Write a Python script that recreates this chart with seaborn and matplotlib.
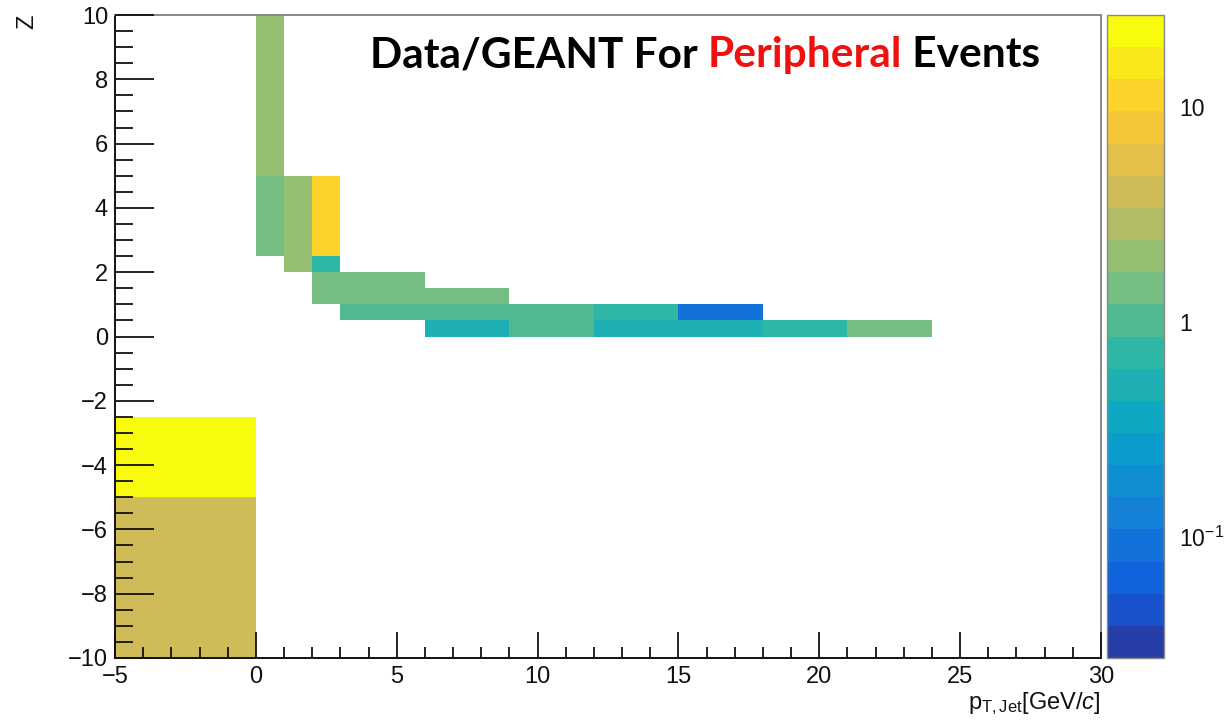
import numpy as np
import seaborn as sns
import matplotlib
matplotlib.use("Agg")
import matplotlib.pyplot as plt
from matplotlib.colors import LinearSegmentedColormap, ListedColormap, LogNorm
from matplotlib.ticker import MultipleLocator, FixedLocator, FixedFormatter, LogLocator, NullFormatter
from matplotlib import transforms

# Bin edges of the 2D histogram (pT of the jet and Z).
x_edges = [-5, 0, 1, 2, 3, 6, 9, 12, 15, 18, 21, 24, 30]
y_edges = [-10, -5, -2.5, 0, 0.5, 1, 1.5, 2, 2.5, 5, 10]

# Filled bins: lower x edge, lower y edge and the Data/GEANT ratio.
bin_pt = [-5, -5,
          6, 9, 12, 15, 18, 21,
          3, 6, 9, 12, 15,
          2, 3, 6,
          2, 3,
          1, 2,
          0, 1, 2,
          0]
bin_z = [-10, -5,
         0, 0, 0, 0, 0, 0,
         0.5, 0.5, 0.5, 0.5, 0.5,
         1, 1, 1,
         1.5, 1.5,
         2, 2,
         2.5, 2.5, 2.5,
         5]
ratio = [4.0, 22.0,
         0.5, 1.0, 0.5, 0.5, 0.72, 1.4,
         1.0, 1.0, 1.0, 0.72, 0.092,
         1.4, 1.4, 1.4,
         1.4, 1.4,
         2.0, 0.72,
         1.4, 2.0, 11.0,
         2.0]

z_min, z_max = 0.0273, 26.8
n_contours = 20

# ROOT kBird palette
bird_stops = [0.0, 0.125, 0.25, 0.375, 0.5, 0.625, 0.75, 0.875, 1.0]
bird_r = [0.2082, 0.0592, 0.0780, 0.0232, 0.1802, 0.5301, 0.8186, 0.9956, 0.9764]
bird_g = [0.1664, 0.3599, 0.5041, 0.6419, 0.7178, 0.7492, 0.7328, 0.7862, 0.9832]
bird_b = [0.5293, 0.8684, 0.8385, 0.7914, 0.6425, 0.4662, 0.3499, 0.1968, 0.0539]

sns.set_theme(style="ticks")
plt.rcParams["font.family"] = ["Liberation Sans", "DejaVu Sans"]
plt.rcParams["mathtext.fontset"] = "custom"
plt.rcParams["mathtext.rm"] = "Liberation Sans"
plt.rcParams["mathtext.it"] = "Liberation Sans:italic"
plt.rcParams["axes.unicode_minus"] = True

bird = LinearSegmentedColormap.from_list(
    "kBird", list(zip(bird_stops, zip(bird_r, bird_g, bird_b))))
cmap = ListedColormap([bird(min((i + 0.99) / n_contours, 1.0)) for i in range(n_contours)])

fig = plt.figure(figsize=(12.24, 7.24), dpi=100)
ax = fig.add_axes([115 / 1224, 66 / 724, 986 / 1224, 643 / 724])
cax = fig.add_axes([1107 / 1224, 66 / 724, 57 / 1224, 643 / 724])

sns.histplot(x=bin_pt, y=bin_z, weights=ratio, bins=(x_edges, y_edges),
             cmap=cmap, ax=ax)
mesh = ax.collections[0]
mesh.set_norm(LogNorm(vmin=z_min, vmax=z_max))
ax.set_axisbelow(False)

txt_col = "#111111"
ax.set_xlim(-5, 30)
ax.set_ylim(-10, 10)
ax.xaxis.set_major_locator(MultipleLocator(5))
ax.xaxis.set_minor_locator(MultipleLocator(1))
ax.yaxis.set_major_locator(MultipleLocator(2))
ax.yaxis.set_minor_locator(MultipleLocator(0.5))
ax.tick_params(which="both", direction="in", colors=txt_col, labelsize=17,
               top=False, right=False, width=1.3)
ax.tick_params(axis="x", which="major", length=19, pad=6)
ax.tick_params(axis="x", which="minor", length=8)
ax.tick_params(axis="y", which="major", length=28, pad=5)
ax.tick_params(axis="y", which="minor", length=13)
for s in ["left", "bottom"]:
    ax.spines[s].set_color(txt_col)
    ax.spines[s].set_linewidth(1.4)
for s in ["top", "right"]:
    ax.spines[s].set_color("#888888")
    ax.spines[s].set_linewidth(1.4)

ax.set_xlabel(r"$\mathregular{p_{T,Jet}}$[GeV/$\mathit{c}$]", fontsize=17, color=txt_col)
ax.xaxis.set_label_coords(1.0, -0.05)
ax.xaxis.label.set_ha("right")
ax.set_ylabel("Z", fontsize=17, color=txt_col)
ax.yaxis.set_label_coords(-0.1, 0.99)
ax.yaxis.label.set_va("top")

cb = fig.colorbar(mesh, cax=cax)
cb.outline.set_edgecolor("#888888")
cb.outline.set_linewidth(1)
cax.yaxis.set_major_locator(FixedLocator([0.1, 1, 10]))
cax.yaxis.set_major_formatter(FixedFormatter([r"$\mathregular{10^{-1}}$", "1", "10"]))
cax.yaxis.set_minor_locator(LogLocator(base=10, subs=np.arange(2, 10)))
cax.yaxis.set_minor_formatter(NullFormatter())
cax.tick_params(which="both", direction="in", colors=txt_col, labelsize=16.5, width=1.3)
cax.tick_params(which="major", length=29, pad=11)
cax.tick_params(which="minor", length=13)

# Title in two colours
fig.canvas.draw()
renderer = fig.canvas.get_renderer()
pieces = [("Data/GEANT For ", "black"), ("Peripheral", "#f01010"), (" Events", "black")]
tr = fig.transFigure
x0, y0 = 370 / 1224, 1 - 67 / 724
for txt, col in pieces:
    t = fig.text(x0, y0, txt, color=col, fontsize=30.5, fontweight="bold",
                 family=["Lato", "DejaVu Sans"], va="baseline", ha="left", transform=tr)
    t.draw(renderer)
    ex = t.get_window_extent(renderer)
    tr = transforms.offset_copy(t.get_transform(), fig=fig, x=ex.width, units="dots")

fig.savefig("out.png", dpi=100)
